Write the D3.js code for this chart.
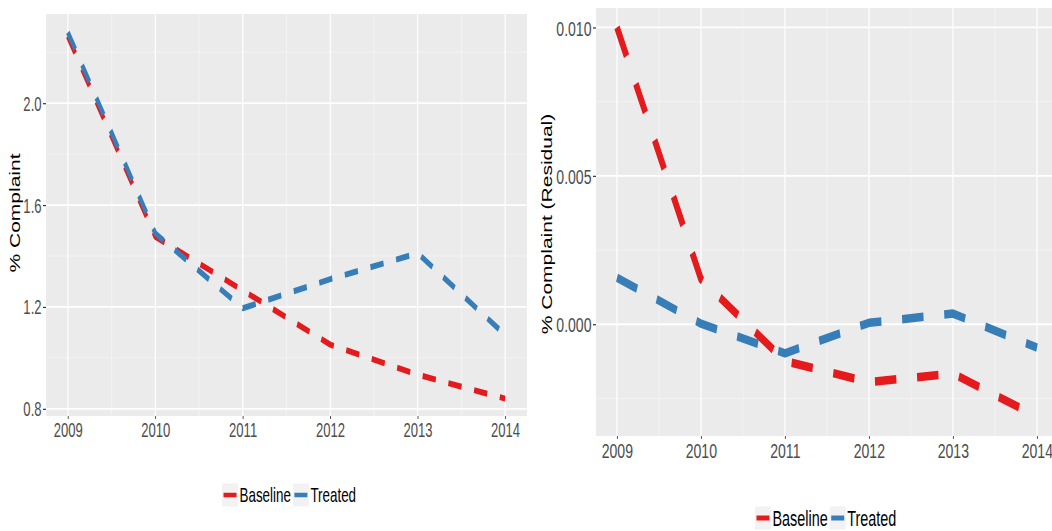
<!DOCTYPE html>
<html>
<head>
<meta charset="utf-8">
<script src="https://cdn.jsdelivr.net/npm/d3@7"></script>
<style>
  html, body { margin: 0; padding: 0; background: #ffffff; }
  svg { display: block; }
  text { font-family: "Liberation Sans", Arial, sans-serif; }
</style>
</head>
<body>
<svg id="chart" width="1052" height="531"></svg>
<script>
// ---- data ----
const years = [2009, 2010, 2011, 2012, 2013, 2014];
const seriesNames = ["Baseline", "Treated"];
const seriesColors = ["#E41A1C", "#377EB8"];

// left panel: raw complaint rate (%)
const rawBaseline = [2.262, 1.476, 1.265, 1.052, 0.934, 0.840];
const rawTreated  = [2.278, 1.489, 1.195, 1.309, 1.411, 1.090];
const rawTicks = [0.8, 1.2, 1.6, 2.0];
const rawMinor = [1.0, 1.4, 1.8, 2.2];

// right panel: residual complaint rate (%)
const resBaseline = [0.0100, 0.00152, -0.00124, -0.00195, -0.00166, -0.00311];
const resTreated  = [0.00157, 0.00002, -0.00098, 0.00005, 0.00036, -0.00079];
const resTicks = [0.000, 0.005, 0.010];
const resMinor = [-0.0025, 0.0025, 0.0075];

// ---- layout ----
const SX = 0.67;               // horizontal compression of the whole drawing
const px = v => v / SX;        // screen x -> drawing x

const svg = d3.select("#chart");
const root = svg.append("g").attr("transform", `scale(${SX},1)`);

function drawPanel(cfg) {
  const g = root.append("g");
  const x = d3.scaleLinear().domain([2008.75, 2014.25]).range([px(cfg.left), px(cfg.right)]);
  const y = d3.scaleLinear().domain(cfg.yDomain).range([cfg.bottom, cfg.top]);

  g.append("rect")
    .attr("x", px(cfg.left)).attr("y", cfg.top)
    .attr("width", px(cfg.right) - px(cfg.left)).attr("height", cfg.bottom - cfg.top)
    .attr("fill", "#EBEBEB");

  // minor grid
  const xMinor = years.slice(0, -1).map(v => v + 0.5);
  g.selectAll(null).data(xMinor).enter().append("line")
    .attr("x1", d => x(d)).attr("x2", d => x(d))
    .attr("y1", cfg.top).attr("y2", cfg.bottom)
    .attr("stroke", "#F5F5F5").attr("stroke-width", 0.9);
  g.selectAll(null).data(cfg.yMinor).enter().append("line")
    .attr("x1", px(cfg.left)).attr("x2", px(cfg.right))
    .attr("y1", d => y(d)).attr("y2", d => y(d))
    .attr("stroke", "#F5F5F5").attr("stroke-width", 0.9);

  // major grid
  g.selectAll(null).data(years).enter().append("line")
    .attr("x1", d => x(d)).attr("x2", d => x(d))
    .attr("y1", cfg.top).attr("y2", cfg.bottom)
    .attr("stroke", "#FFFFFF").attr("stroke-width", 1.8);
  g.selectAll(null).data(cfg.yTicks).enter().append("line")
    .attr("x1", px(cfg.left)).attr("x2", px(cfg.right))
    .attr("y1", d => y(d)).attr("y2", d => y(d))
    .attr("stroke", "#FFFFFF").attr("stroke-width", 1.8);

  // axes
  const xAxis = g.append("g").attr("transform", `translate(0,${cfg.bottom})`)
    .call(d3.axisBottom(x).tickValues(years).tickFormat(d3.format("d")).tickSize(3).tickPadding(cfg.xPad));
  const yAxis = g.append("g").attr("transform", `translate(${px(cfg.left)},0)`)
    .call(d3.axisLeft(y).tickValues(cfg.yTicks).tickFormat(d3.format(cfg.yFmt)).tickSize(px(3)).tickPadding(px(1.5)));
  [xAxis, yAxis].forEach(a => {
    a.select(".domain").remove();
    a.selectAll(".tick line").attr("stroke", "#333333").attr("stroke-width", 1.2);
    a.selectAll(".tick text").attr("fill", "#4D4D4D")
      .style("font-size", cfg.tickSize + "px");
  });
  yAxis.selectAll(".tick text").attr("dy", "0.36em");

  // title
  g.append("text")
    .attr("transform", `translate(${px(cfg.titleX)},${(cfg.top + cfg.bottom) / 2 + cfg.titleDy}) rotate(-90)`)
    .attr("text-anchor", "middle")
    .attr("dy", "0.35em")
    .attr("fill", "#000000")
    .style("font-size", "21px")
    .text(cfg.title);

  // lines
  const line = d3.line().x((d, i) => x(years[i])).y(d => y(d));
  cfg.series.forEach((vals, k) => {
    g.append("path")
      .datum(vals)
      .attr("d", line)
      .attr("fill", "none")
      .attr("stroke", seriesColors[k])
      .attr("stroke-width", cfg.lineWidth)
      .attr("stroke-dasharray", cfg.dash)
      .attr("stroke-linejoin", "round")
      .attr("stroke-linecap", "butt");
  });
}

function drawLegend(cfg) {
  const g = root.append("g");
  let cx = cfg.x;
  seriesNames.forEach((name, k) => {
    g.append("rect")
      .attr("x", px(cx)).attr("y", cfg.cy - 11.5)
      .attr("width", px(16)).attr("height", 23)
      .attr("fill", "#F2F2F2");
    g.append("line")
      .attr("x1", px(cx + 1.5)).attr("x2", px(cx + 14.5))
      .attr("y1", cfg.cy).attr("y2", cfg.cy)
      .attr("stroke", seriesColors[k]).attr("stroke-width", cfg.keyWidth);
    const t = g.append("text")
      .attr("x", px(cx + 17.5)).attr("y", cfg.cy)
      .attr("dy", "0.36em")
      .attr("fill", "#000000")
      .style("font-size", cfg.fontSize + "px")
      .text(name);
    cx += 17.5 + t.node().getComputedTextLength() * SX + 2;
  });
}

drawPanel({
  left: 46, right: 527, top: 14, bottom: 416,
  yDomain: [0.7718, 2.3502], yTicks: rawTicks, yMinor: rawMinor, yFmt: ".1f",
  tickSize: 19.5, xPad: 4,
  title: "% Complaint", titleX: 15.5, titleDy: -2,
  series: [rawBaseline, rawTreated],
  lineWidth: 6, dash: "20 19"
});

drawPanel({
  left: 596, right: 1058, top: 8, bottom: 436,
  yDomain: [-0.003765, 0.010655], yTicks: resTicks, yMinor: resMinor, yFmt: ".3f",
  tickSize: 21, xPad: 4.5,
  title: "% Complaint (Residual)", titleX: 547, titleDy: 2,
  series: [resBaseline, resTreated],
  lineWidth: 8.5, dash: "32 31"
});

drawLegend({ x: 222, cy: 495, fontSize: 20, keyWidth: 4.5 });
drawLegend({ x: 755, cy: 518, fontSize: 21.5, keyWidth: 5 });
</script>
</body>
</html>
